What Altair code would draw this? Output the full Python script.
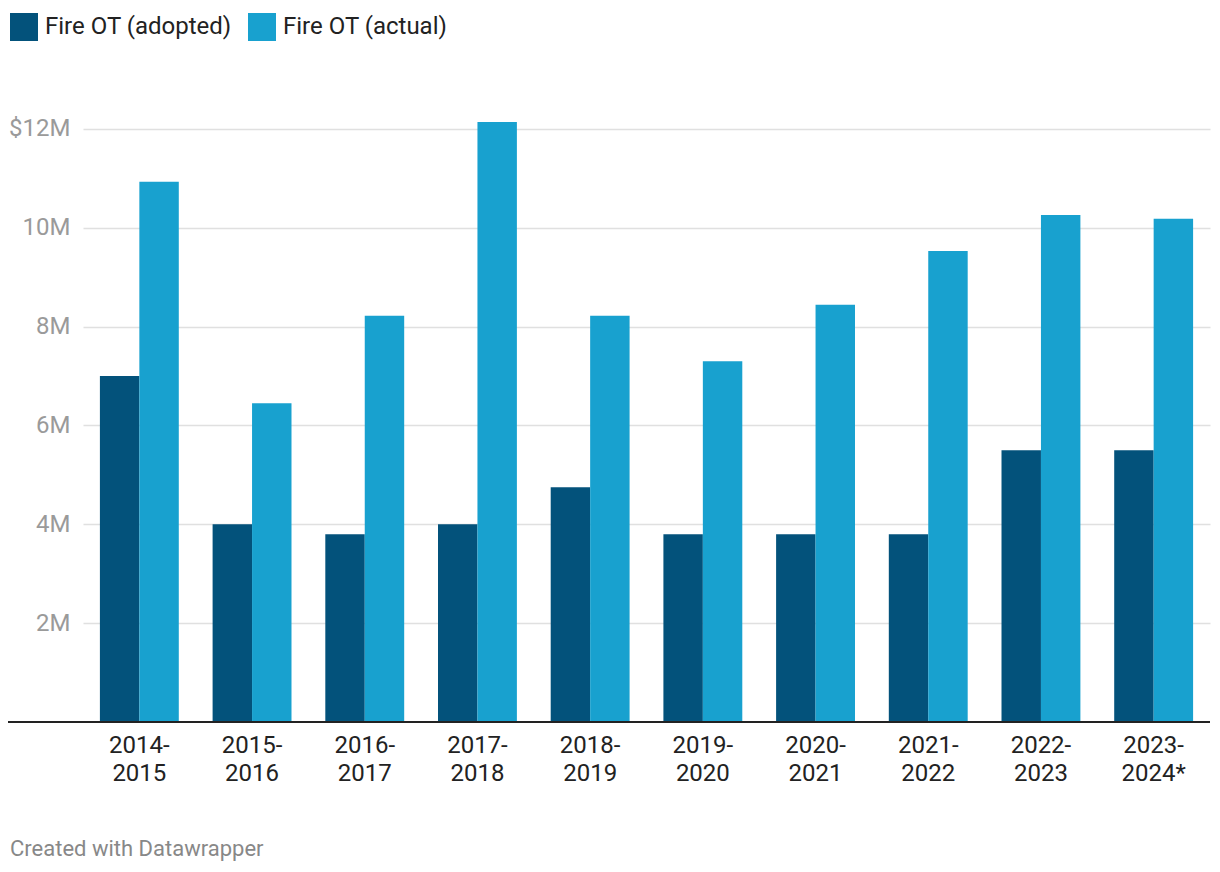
import altair as alt
import pandas as pd

years = ["2014-2015", "2015-2016", "2016-2017", "2017-2018", "2018-2019",
         "2019-2020", "2020-2021", "2021-2022", "2022-2023", "2023-2024*"]
adopted = [7.0, 4.0, 3.8, 4.0, 4.75, 3.8, 3.8, 3.8, 5.5, 5.5]
actual = [10.93, 6.45, 8.22, 12.14, 8.22, 7.3, 8.44, 9.53, 10.26, 10.18]
series = ["Fire OT (adopted)", "Fire OT (actual)"]
colors = ["#03527b", "#18a1cf"]

rows = []
for y, a, b in zip(years, adopted, actual):
    rows.append({"year": y, "series": series[0], "value": a * 1e6})
    rows.append({"year": y, "series": series[1], "value": b * 1e6})
df = pd.DataFrame(rows)

W, H = 1127, 603
FONT = "Roboto"

bars = alt.Chart(df).mark_bar().encode(
    x=alt.X("year:N", sort=years, title=None,
            scale=alt.Scale(paddingInner=0.3, paddingOuter=0.15),
            axis=alt.Axis(labelExpr="[slice(datum.value,0,5), slice(datum.value,5)]",
                          labelFontSize=24, labelColor="#222222", labelFont=FONT,
                          labelLineHeight=28, labelPadding=11, ticks=False,
                          domain=False, labelAngle=0, labelBaseline="top", grid=False)),
    xOffset=alt.XOffset("series:N", sort=series, scale=alt.Scale(paddingInner=0, paddingOuter=0)),
    y=alt.Y("value:Q", title=None,
            scale=alt.Scale(domain=[0, 12.2e6], nice=False),
            axis=alt.Axis(values=[2e6, 4e6, 6e6, 8e6, 10e6, 12e6],
                          labelExpr="datum.value == 12000000 ? '$12M' : format(datum.value/1000000, 'd') + 'M'",
                          labelFontSize=24, labelColor="#9a9a9a", labelFont=FONT,
                          labelPadding=13, ticks=False, domain=False,
                          grid=True, gridColor="#e0e0e0", gridWidth=1.3)),
    color=alt.Color("series:N", sort=series,
                    scale=alt.Scale(domain=series, range=colors),
                    legend=alt.Legend(title=None, orient="none", direction="horizontal",
                                      legendX=-73, legendY=-106,
                                      symbolType="square", symbolSize=784,
                                      symbolStrokeWidth=0, symbolOpacity=1,
                                      labelFontSize=24, labelColor="#222222",
                                      labelFont=FONT, labelOffset=7, labelLimit=0,
                                      columnPadding=16)),
)

baseline = alt.Chart(df).mark_rule(color="#222222", strokeWidth=2).encode(
    x=alt.value(-81), x2=alt.value(W), y=alt.value(H)
)

chart = alt.layer(bars, baseline).properties(
    width=W, height=H,
    background="white",
    autosize=alt.AutoSizeParams(type="none"),
    padding={"left": 75, "top": 111, "right": 2, "bottom": 140},
    title=alt.TitleParams("Created with Datawrapper", orient="bottom", anchor="start",
                          frame="group", dx=-73, offset=54, fontSize=22,
                          fontWeight="normal", color="#888888", font=FONT),
).configure_view(stroke=None)

chart.save("out.html", embed_options={"renderer": "svg", "actions": False})
